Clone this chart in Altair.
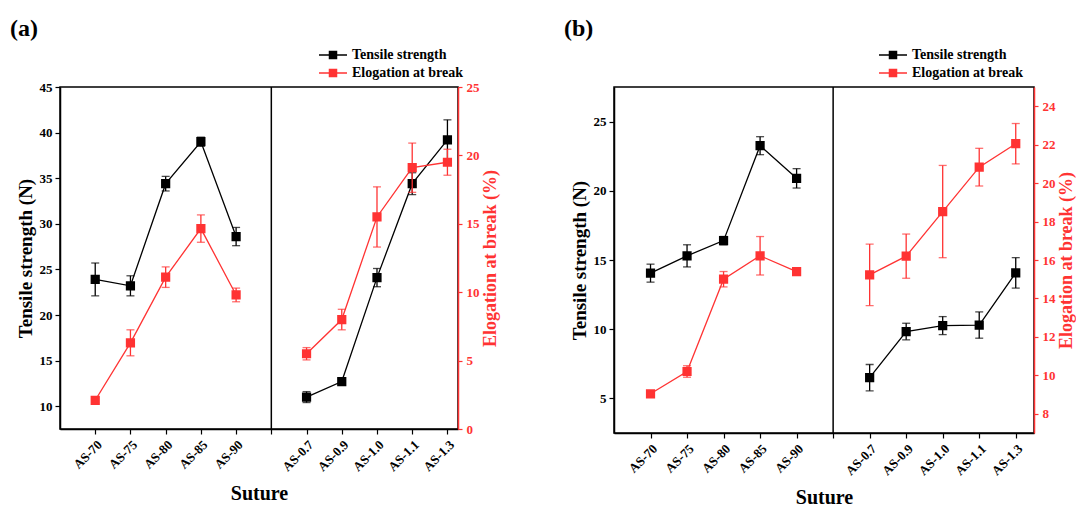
import altair as alt
import pandas as pd

# ---------------- data ----------------
tick_labels = ['', 'AS-70', 'AS-75', 'AS-80', 'AS-85', 'AS-90', '',
               'AS-0.7', 'AS-0.9', 'AS-1.0', 'AS-1.1', 'AS-1.3']
positions = [1, 2, 3, 4, 5, 7, 8, 9, 10, 11]
groups = ['L', 'L', 'L', 'L', 'L', 'R', 'R', 'R', 'R', 'R']
SERIES = ['Tensile strength', 'Elogation at break']

# panel (a)
a_ts = [23.9, 23.2, 34.4, 39.0, 28.6, 11.0, 12.7, 24.1, 34.4, 39.2]
a_ts_err = [1.8, 1.1, 0.8, 0.5, 1.0, 0.6, 0.3, 1.0, 1.2, 2.2]
a_el = [2.1, 6.3, 11.1, 14.65, 9.8, 5.5, 8.0, 15.5, 19.1, 19.5]
a_el_err = [0.2, 0.95, 0.75, 1.0, 0.5, 0.45, 0.75, 2.2, 1.8, 0.95]

# panel (b)
b_ts = [14.05, 15.3, 16.4, 23.26, 20.9, 6.5, 9.83, 10.26, 10.3, 14.07]
b_ts_err = [0.65, 0.8, 0.3, 0.65, 0.7, 0.95, 0.6, 0.65, 0.95, 1.1]
b_el = [9.04, 10.2, 15.0, 16.22, 15.4, 15.23, 16.2, 18.52, 20.83, 22.05]
b_el_err = [0.12, 0.3, 0.4, 1.0, 0.2, 1.6, 1.15, 2.4, 0.98, 1.05]

RED = '#ff3333'
FONT = 'Liberation Serif'
LABEL_EXPR = '[' + ','.join("'%s'" % t for t in tick_labels) + '][datum.value]'
LEGEND_SYMBOL = 'M-2,0H2M-0.5,-0.5H0.5V0.5H-0.5Z'


def make_df(vals, errs, series):
    return pd.DataFrame({
        'pos': positions,
        'grp': groups,
        'val': vals,
        'lo': [v - e for v, e in zip(vals, errs)],
        'hi': [v + e for v, e in zip(vals, errs)],
        'series': series,
    })


def panel(ts, ts_err, el, el_err, ts_dom, ts_ticks, el_dom, el_ticks,
          xmax, width, height, tag, legend_x):
    dts = make_df(ts, ts_err, SERIES[0])
    del_ = make_df(el, el_err, SERIES[1])

    xs = alt.Scale(domain=[0, xmax], nice=False, zero=False)
    xaxis = alt.Axis(values=list(range(1, 12)), labelExpr=LABEL_EXPR,
                     labelAngle=315, labelOverlap=False, title='Suture', grid=False,
                     labelFont=FONT, labelFontWeight='bold', labelFontSize=13,
                     labelColor='black', titleFont=FONT, titleFontWeight='bold',
                     titleFontSize=20, titleColor='black', domainColor='black',
                     domainWidth=1.5, tickColor='black', tickSize=5,
                     tickWidth=1.2, labelPadding=4, titlePadding=10)
    X = alt.X('pos:Q', scale=xs, axis=xaxis)

    yl_scale = alt.Scale(domain=ts_dom, nice=False, zero=False)
    yl_axis = alt.Axis(values=ts_ticks, title='Tensile strength (N)', grid=False,
                       orient='left', labelFont=FONT, labelFontWeight='bold',
                       labelFontSize=13, labelColor='black', titleFont=FONT,
                       titleFontWeight='bold', titleFontSize=19, titleColor='black',
                       domainColor='black', domainWidth=1.5, tickColor='black',
                       tickSize=5, tickWidth=1.2, labelPadding=3, titlePadding=4)
    yr_scale = alt.Scale(domain=el_dom, nice=False, zero=False)
    yr_axis = alt.Axis(values=el_ticks, title='Elogation at break (%)', grid=False,
                       orient='right', labelFont=FONT, labelFontWeight='bold',
                       labelFontSize=13, labelColor=RED, titleFont=FONT,
                       titleFontWeight='bold', titleFontSize=18, titleColor=RED,
                       titleAngle=270, titleBaseline='top', domainColor=RED,
                       domainWidth=1.5, tickColor=RED, tickSize=4, tickWidth=1.2,
                       labelPadding=4, titlePadding=2)

    color_scale = alt.Scale(domain=SERIES, range=['black', RED])
    legend = alt.Legend(title=None, orient='none', legendX=legend_x, legendY=-40,
                        symbolType=LEGEND_SYMBOL, symbolSize=196,
                        symbolStrokeWidth=1.5, labelFont=FONT,
                        labelFontWeight='bold', labelFontSize=14,
                        labelColor='black', rowPadding=3, labelOffset=11)

    def group(df, yscale, yaxis, color):
        Y = alt.Y('val:Q', scale=yscale, axis=yaxis)
        base = alt.Chart(df)
        line = base.mark_line(color=color, strokeWidth=1.3).encode(
            x=X, y=Y, detail='grp:N')
        err = base.mark_errorbar(ticks=alt.MarkConfig(color=color, size=8),
                                 color=color, thickness=1.3).encode(
            x=X, y=alt.Y('lo:Q', scale=yscale, axis=yaxis), y2='hi:Q')
        pts = base.mark_square(size=52, opacity=1, filled=True).encode(
            x=X, y=Y,
            fill=alt.Fill('series:N', scale=color_scale, legend=legend),
            stroke=alt.Stroke('series:N', scale=color_scale, legend=legend))
        return [line, err, pts]

    divider = alt.Chart(pd.DataFrame({'pos': [6]})).mark_rule(
        color='black', strokeWidth=1.5).encode(x=X)

    left = alt.layer(divider, *group(dts, yl_scale, yl_axis, 'black'))
    right = alt.layer(*group(del_, yr_scale, yr_axis, RED))
    return alt.layer(left, right).resolve_scale(y='independent').properties(
        width=width, height=height,
        title=alt.TitleParams(tag, anchor='start', font=FONT, fontSize=24,
                              fontWeight='bold', color='black', offset=6, dx=-6))


pa = panel(a_ts, a_ts_err, a_el, a_el_err, [7.5, 45], [10, 15, 20, 25, 30, 35, 40, 45],
           [0, 25], [0, 5, 10, 15, 20, 25], 11.3, 398, 342, '(a)', 265)
pb = panel(b_ts, b_ts_err, b_el, b_el_err, [2.5, 27.5], [5, 10, 15, 20, 25],
           [7, 25], [8, 10, 12, 14, 16, 18, 20, 22, 24], 11.5, 420, 346, '(b)', 271)

chart = alt.hconcat(pa, pb, spacing=63).resolve_scale(
    fill='independent', stroke='independent').properties(
    padding={'left': 1, 'top': 8, 'right': 0, 'bottom': 0},
    background='white').configure_view(stroke='black', strokeWidth=1.5)

chart.save('out.html', embed_options={'renderer': 'svg', 'actions': False})
